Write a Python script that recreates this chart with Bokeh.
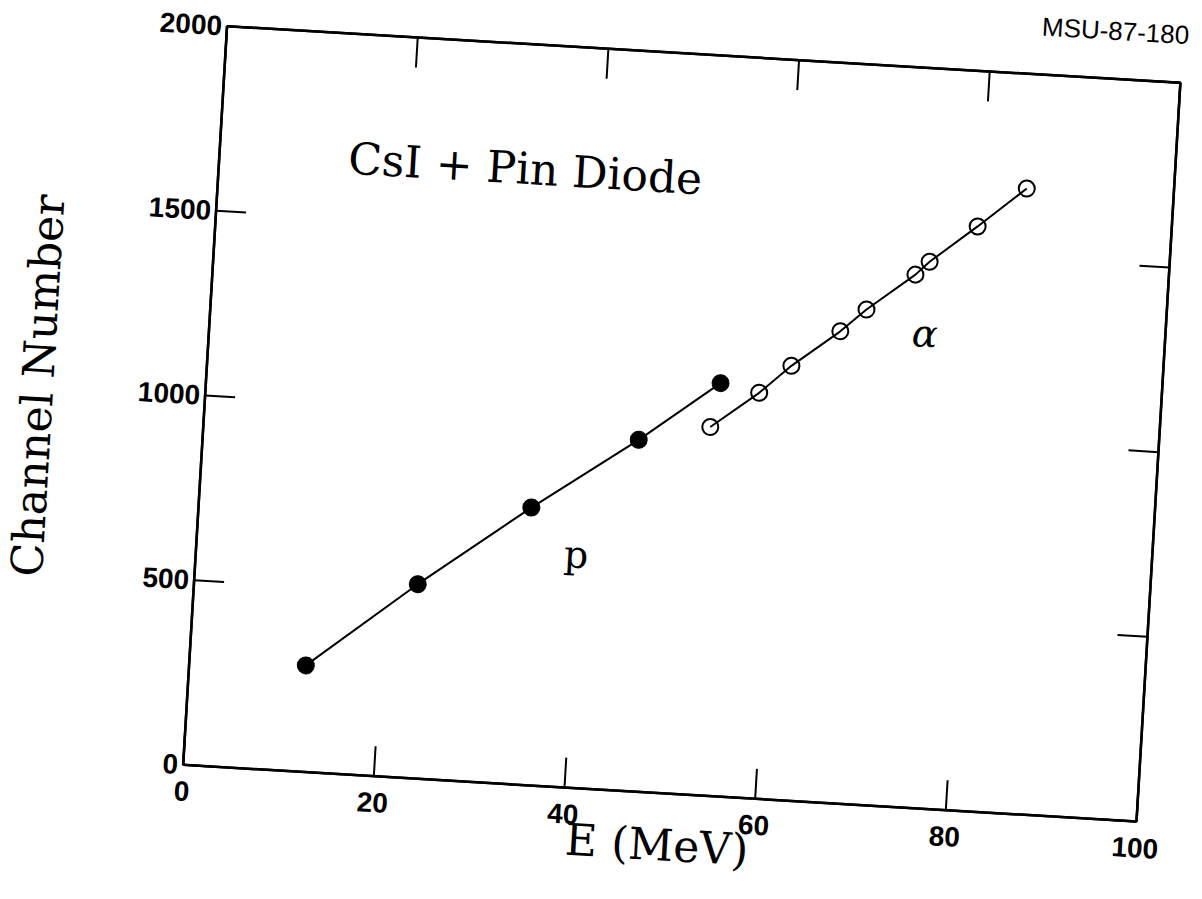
from bokeh.plotting import figure
from bokeh.models import Range1d, LinearAxis, FixedTicker, Label
from bokeh.embed import file_html
from bokeh.resources import INLINE

# ---- data ----
proton_energy = [12.2, 23.4, 34.8, 45.6, 53.8]
proton_channel = [288, 525, 750, 950, 1116]
alpha_energy = [53.0, 57.9, 61.1, 66.0, 68.6, 73.5, 74.9, 79.7, 84.6]
alpha_channel = [996, 1096, 1174, 1275, 1338, 1440, 1477, 1580, 1690]
x_ticks = [0, 20, 40, 60, 80, 100]
y_ticks = [0, 500, 1000, 1500, 2000]

FRAME_W, FRAME_H = 955, 740
L, T, R, B = 204, 110, 30, 92
ANGLE = 3.4  # the scanned page is slightly tilted

p = figure(frame_width=FRAME_W, frame_height=FRAME_H,
           x_range=Range1d(0, 100), y_range=Range1d(0, 2000),
           output_backend="svg", toolbar_location=None,
           min_border_left=L, min_border_top=T, min_border_right=R, min_border_bottom=B,
           x_axis_label="E (MeV)", y_axis_label="Channel Number",
           background_fill_color="white", border_fill_color="white")

p.title.text = "MSU-87-180"
p.title.align = "right"
p.title.text_font = "Liberation Sans"
p.title.text_font_size = "26px"
p.title.text_font_style = "normal"
p.title.text_color = "black"
p.title.standoff = 66
p.title.offset = -6

p.grid.visible = False
p.outline_line_color = "black"
p.outline_line_width = 2.5

for ax, ticks in ((p.xaxis[0], x_ticks), (p.yaxis[0], y_ticks)):
    ax.ticker = FixedTicker(ticks=ticks)
    ax.major_tick_in = 30
    ax.major_tick_out = 0
    ax.minor_tick_line_color = None
    ax.major_tick_line_width = 2
    ax.axis_line_width = 2.5
    ax.major_label_text_font = "Liberation Sans"
    ax.major_label_text_font_size = "28px"
    ax.major_label_text_font_style = "bold"
    ax.major_label_text_color = "black"
    ax.axis_label_text_font = "DejaVu Serif"
    ax.axis_label_text_font_size = "44px"
    ax.axis_label_text_font_style = "normal"
    ax.axis_label_text_color = "black"

p.xaxis[0].major_label_standoff = 17
p.xaxis[0].axis_label_standoff = -13
p.yaxis[0].major_label_standoff = 5
p.yaxis[0].axis_label_standoff = 72

for loc, ticks in (("above", x_ticks), ("right", y_ticks)):
    ax = LinearAxis(ticker=FixedTicker(ticks=ticks))
    ax.major_tick_in = 30
    ax.major_tick_out = 0
    ax.minor_tick_line_color = None
    ax.major_tick_line_width = 2
    ax.axis_line_width = 2.5
    ax.major_label_text_font_size = "0px"
    ax.major_label_text_color = None
    ax.major_label_standoff = 0
    p.add_layout(ax, loc)

# proton (filled) and alpha (open) series with their lines
p.line(proton_energy, proton_channel, line_color="black", line_width=2)
p.scatter(proton_energy, proton_channel, marker="circle", size=17,
          fill_color="black", line_color="black")
p.line(alpha_energy, alpha_channel, line_color="black", line_width=2)
p.scatter(alpha_energy, alpha_channel, marker="circle", size=16,
          fill_color=None, line_color="black", line_width=2)

p.add_layout(Label(x=13.5, y=1664, text="CsI + Pin Diode", text_font="DejaVu Serif",
                   text_font_size="44px", text_align="left", text_baseline="alphabetic",
                   text_color="black"))
p.add_layout(Label(x=38.5, y=630, text="p", text_font="DejaVu Serif",
                   text_font_size="38px", text_align="left", text_baseline="alphabetic",
                   text_color="black"))
p.add_layout(Label(x=73.5, y=1282, text="α", text_font="DejaVu Serif",
                   text_font_style="italic", text_font_size="38px", text_align="left",
                   text_baseline="alphabetic", text_color="black"))

# tilt like the scan: rotate about the frame centre
cx, cy = L + FRAME_W / 2, T + FRAME_H / 2
p.styles = {"transform": f"translate({681.3 - cx:.1f}px, {423.3 - cy:.1f}px) rotate({ANGLE}deg)",
            "transform-origin": f"{cx}px {cy}px"}

open("out.html", "w").write(file_html(p, INLINE))
